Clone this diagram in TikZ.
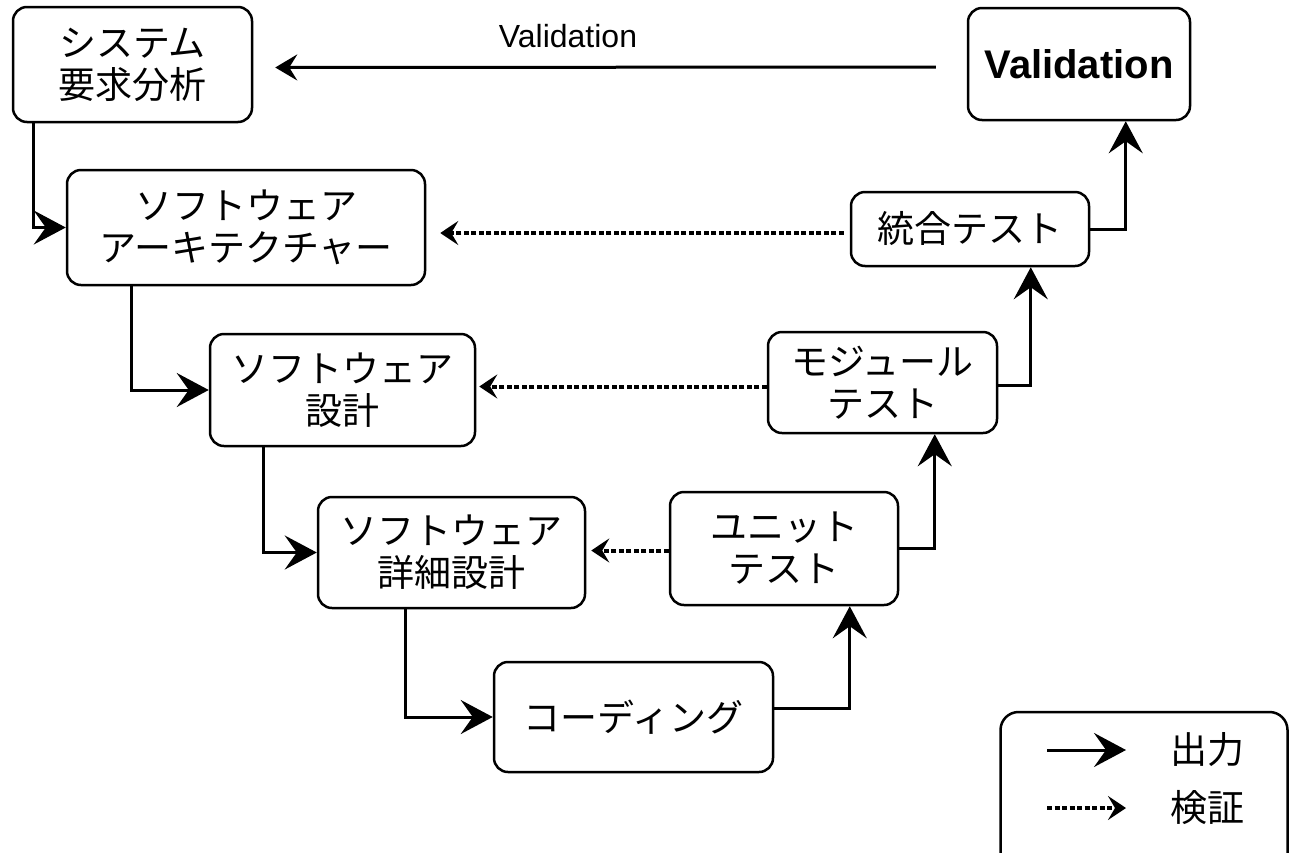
\documentclass[tikz,border=0pt]{standalone}
\usepackage{fontspec}
\setmainfont{Liberation Sans}
\newfontfamily\jpfont{Noto Sans CJK JP}
\usetikzlibrary{arrows.meta,calc}
\begin{document}
\begin{tikzpicture}[x=1pt,y=-1pt,
  box/.style={draw, line width=2.5pt, rounded corners=14pt, inner sep=0pt, align=center,
    font=\jpfont\fontsize{37}{42}\selectfont},
  jptext/.style={inner sep=0pt, font=\jpfont\fontsize{37}{42}\selectfont},
  outarrow/.style={line width=3pt, -{Stealth[length=32pt,width=34pt,inset=12pt]}},
  smallout/.style={line width=3pt, -{Stealth[length=22pt,width=26pt,inset=8pt]}},
  verarrow/.style={line width=4pt, dash pattern=on 5pt off 2.5pt, -{Stealth[length=18pt,width=24pt,inset=7pt]}}]
\useasboundingbox (0,0) rectangle (1289,852);
% boxes
\node[box, minimum width=239pt, minimum height=115pt] (sys) at (132.5,64.5) {システム\\要求分析};
\node[box, minimum width=358pt, minimum height=115pt] (arch) at (246,227.5) {ソフトウェア\\アーキテクチャー};
\node[box, minimum width=265pt, minimum height=112pt] (des) at (342.5,390) {ソフトウェア\\設計};
\node[box, minimum width=267pt, minimum height=111pt] (det) at (451.5,552.5) {ソフトウェア\\詳細設計};
\node[box, minimum width=279pt, minimum height=110pt] (cod) at (633.5,717) {コーディング};
\node[box, minimum width=228pt, minimum height=113pt] (unit) at (784,548.5) {ユニット\\テスト};
\node[box, minimum width=229pt, minimum height=101pt] (mod) at (882.5,382.5) {モジュール\\テスト};
\node[box, minimum width=238pt, minimum height=74pt] (int) at (970,229) {統合テスト};
\node[box, minimum width=222pt, minimum height=112pt, font=\bfseries\fontsize{40}{44}\selectfont] (val) at (1079,64) {Validation};
\node[font=\fontsize{32}{36}\selectfont, inner sep=0pt] (vlab) at (568,36) {Validation};
% output arrows (V left side)
\draw[outarrow] ($(sys.south west)+(22,0)$) |- (arch.west);
\draw[outarrow] ($(arch.south west)+(66,0)$) |- (des.west);
\draw[outarrow] ($(des.south west)+(55,0)$) |- (det.west);
\draw[outarrow] ($(det.south west)+(89,0)$) |- (cod.west);
% output arrows (V right side)
\draw[outarrow] ($(cod.east)+(0,-9)$) -| ($(unit.south west)+(181,0)$);
\draw[outarrow] (unit.east) -| ($(mod.south west)+(168,0)$);
\draw[outarrow] ($(mod.east)+(0,3)$) -| ($(int.south west)+(181,0)$);
\draw[outarrow] (int.east) -| ($(val.south west)+(159,0)$);
% validation arrow
\draw[smallout, shorten <=31pt, shorten >=22pt] ($(val.west)+(0,3)$) -- ($(sys.east)+(0,3)$);
% verification arrows
\draw[verarrow, shorten <=6pt, shorten >=14pt] ($(int.west)+(0,4)$) -- ($(arch.east |- int.west)+(0,4)$);
\draw[verarrow, shorten >=3pt] ($(mod.west)+(0,4)$) -- ($(des.east |- mod.west)+(0,4)$);
\draw[verarrow, shorten >=5pt] ($(unit.west)+(0,2)$) -- ($(det.east |- unit.west)+(0,2)$);
% legend
\node[draw, line width=2.5pt, rounded corners=18pt, minimum width=287pt, minimum height=170pt, inner sep=0pt] (legend) at (1144,797) {};
\coordinate (l1a) at (1047,750);
\coordinate (l1b) at (1126,750);
\coordinate (l2a) at (1047,808);
\coordinate (l2b) at (1126,808);
\draw[outarrow] (l1a) -- (l1b);
\draw[verarrow] (l2a) -- (l2b);
\node[jptext] (lout) at (1207,750) {出力};
\node[jptext] (lver) at (1207,808) {検証};
\end{tikzpicture}
\end{document}
